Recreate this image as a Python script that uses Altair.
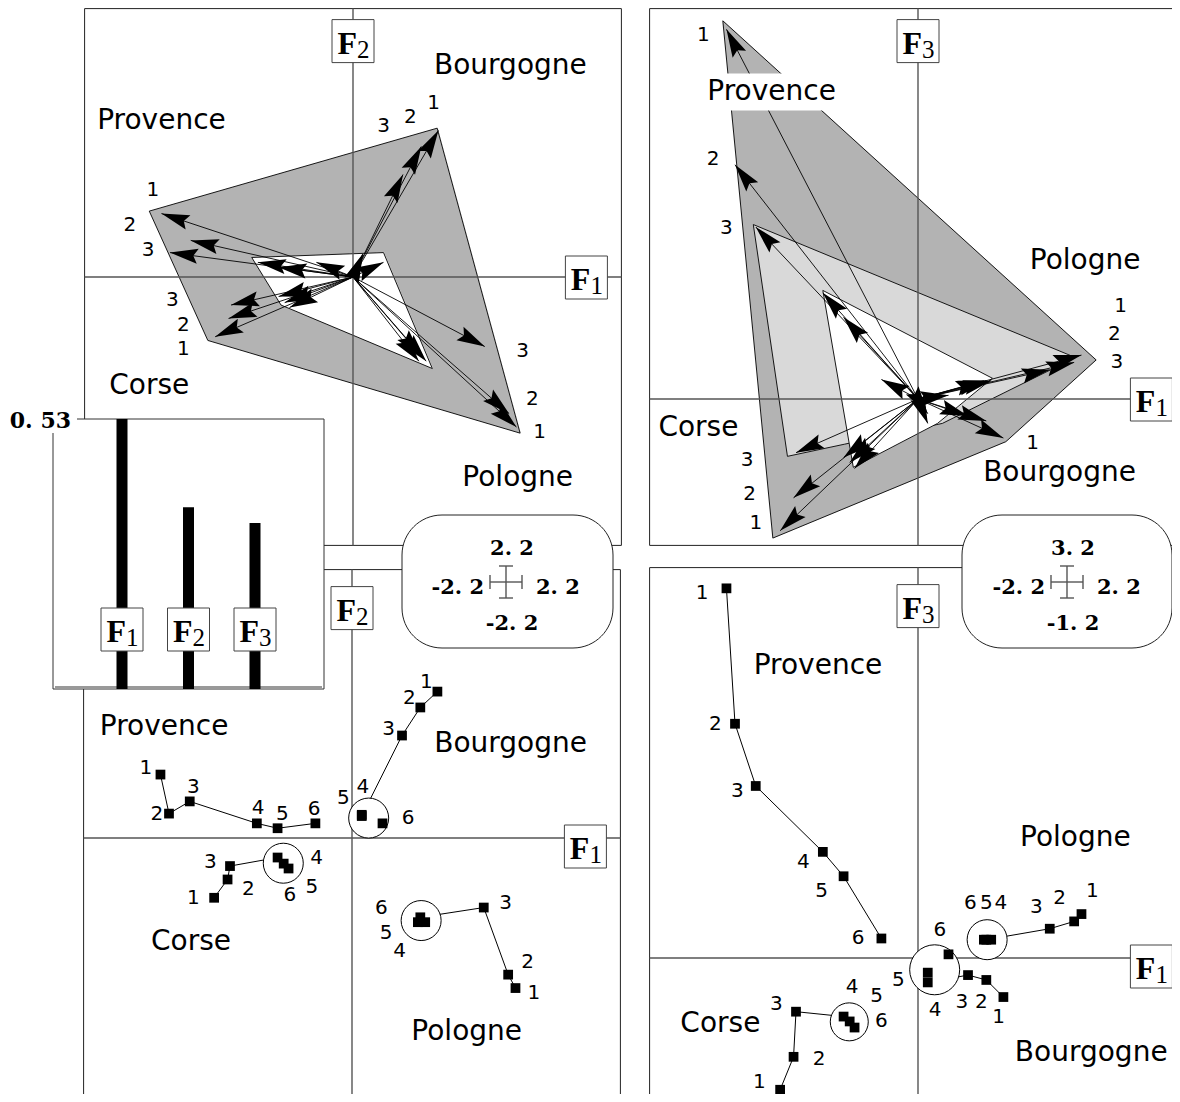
import math
import altair as alt
import pandas as pd

# ---------------- values ----------------
REGIONS = ["Provence", "Corse", "Bourgogne", "Pologne"]
TIMES = [1, 2, 3, 4, 5, 6]

PROVENCE_F1 = [-1.57, -1.50, -1.33, -0.78, -0.61, -0.30]
PROVENCE_F2 = [0.52, 0.20, 0.30, 0.12, 0.08, 0.12]
PROVENCE_F3 = [3.03, 1.92, 1.41, 0.87, 0.67, 0.16]
CORSE_F1 = [-1.13, -1.02, -1.00, -0.61, -0.56, -0.52]
CORSE_F2 = [-0.49, -0.34, -0.23, -0.16, -0.21, -0.25]
CORSE_F3 = [-1.08, -0.81, -0.44, -0.48, -0.52, -0.57]
BOURGOGNE_F1 = [0.70, 0.56, 0.41, 0.08, 0.08, 0.25]
BOURGOGNE_F2 = [1.20, 1.07, 0.84, 0.18, 0.19, 0.12]
BOURGOGNE_F3 = [-0.32, -0.18, -0.14, -0.20, -0.12, 0.03]
POLOGNE_F1 = [1.34, 1.28, 1.08, 0.56, 0.60, 0.54]
POLOGNE_F2 = [-1.23, -1.12, -0.57, -0.65, -0.69, -0.69]
POLOGNE_F3 = [0.36, 0.30, 0.24, 0.15, 0.15, 0.15]

EIGEN_LABELS = ["1", "2", "3"]
EIGEN_VALUES = [0.53, 0.357, 0.326]

F1_RANGE = [-2.2, 2.2]
F2_RANGE = [-2.2, 2.2]
F3_RANGE = [-1.2, 3.2]

# hull polygons of the arrow plots (factor units)
TL_DARK_X = [-1.67, 0.69, 1.37, -1.19]
TL_DARK_Y = [0.54, 1.22, -1.28, -0.52]
TL_WHITE_X = [-0.83, 0.25, 0.65, -0.59]
TL_WHITE_Y = [0.16, 0.20, -0.75, -0.23]
TR_DARK_X = [-1.60, 1.46, 0.72, -1.19]
TR_DARK_Y = [3.10, 0.32, -0.35, -1.14]
TR_LIGHT_X = [-1.35, 1.29, 0.20, -0.60, -1.07]
TR_LIGHT_Y = [1.43, 0.34, -0.20, -0.37, -0.47]
TR_WHITE_X = [-0.78, 0.61, 0.16, -0.53]
TR_WHITE_Y = [0.89, 0.17, -0.20, -0.56]

# time labels (factor units)
TL_LAB_TXT = ["1", "2", "3", "3", "2", "1", "3", "2", "1", "3", "2", "1"]
TL_LAB_X = [-1.64, -1.83, -1.68, -1.48, -1.39, -1.39, 0.25, 0.47, 0.66, 1.39, 1.47, 1.53]
TL_LAB_Y = [0.71, 0.43, 0.22, -0.19, -0.39, -0.59, 1.24, 1.31, 1.43, -0.61, -1.00, -1.27]
TR_LAB_TXT = ["1", "2", "3", "3", "2", "1", "1", "2", "3", "1"]
TR_LAB_X = [-1.76, -1.68, -1.57, -1.40, -1.38, -1.33, 1.66, 1.61, 1.63, 0.94]
TR_LAB_Y = [2.98, 1.97, 1.40, -0.50, -0.78, -1.02, 0.76, 0.53, 0.30, -0.36]
BL_LAB_X = [-1.69, -1.60, -1.30, -0.77, -0.57, -0.31,
            -1.30, -0.85, -1.16, -0.29, -0.33, -0.51,
            0.61, 0.47, 0.30, 0.09, -0.07, 0.46,
            1.49, 1.44, 1.26, 0.39, 0.28, 0.24]
BL_LAB_Y = [0.57, 0.20, 0.42, 0.25, 0.20, 0.24,
            -0.49, -0.42, -0.20, -0.16, -0.40, -0.47,
            1.28, 1.15, 0.89, 0.42, 0.33, 0.16,
            -1.27, -1.02, -0.53, -0.93, -0.78, -0.57]
BR_LAB_X = [-1.77, -1.66, -1.48, -0.94, -0.79, -0.49,
            -1.30, -0.81, -1.16, -0.54, -0.34, -0.30,
            0.66, 0.52, 0.36, 0.14, -0.16, 0.18,
            1.43, 1.16, 0.97, 0.68, 0.56, 0.43]
BR_LAB_Y = [2.99, 1.92, 1.37, 0.79, 0.55, 0.16,
            -1.02, -0.83, -0.38, -0.24, -0.31, -0.52,
            -0.48, -0.36, -0.36, -0.43, -0.18, 0.23,
            0.55, 0.49, 0.42, 0.45, 0.45, 0.45]

# region names (order of REGIONS)
TL_REG_X = [-1.57, -1.67, 1.29, 1.35]
TL_REG_Y = [1.28, -0.89, 1.73, -1.65]
TR_REG_X = [-1.20, -1.80, 1.16, 1.37]
TR_REG_Y = [2.52, -0.24, -0.61, 1.13]
BL_REG_X = [-1.54, -1.32, 1.30, 0.94]
BL_REG_Y = [0.91, -0.85, 0.77, -1.59]
BR_REG_X = [-0.82, -1.62, 1.42, 1.29]
BR_REG_Y = [2.39, -0.54, -0.78, 0.98]

CIRCLE_REGIONS = ["Corse", "Bourgogne", "Pologne"]
BL_CIRCLE_R = [20, 20, 20]
BR_CIRCLE_R = [19, 25, 20]

# ---------------- layout (pixels) ----------------
W, H = 1164, 1086
XS = alt.Scale(domain=[8, 8 + W], nice=False, zero=False)
YS = alt.Scale(domain=[8, 8 + H], nice=False, zero=False, reverse=True)
K = 122
PANELS = {
    "TL": dict(ox=353, oy=277, yf=1, top=True),
    "TR": dict(ox=918, oy=399, yf=2, top=True),
    "BL": dict(ox=352, oy=838, yf=1, top=False),
    "BR": dict(ox=918, oy=958, yf=2, top=False),
}
COORDS = {
    "Provence": (PROVENCE_F1, PROVENCE_F2, PROVENCE_F3),
    "Corse": (CORSE_F1, CORSE_F2, CORSE_F3),
    "Bourgogne": (BOURGOGNE_F1, BOURGOGNE_F2, BOURGOGNE_F3),
    "Pologne": (POLOGNE_F1, POLOGNE_F2, POLOGNE_F3),
}
INSET = dict(x0=53, x1=324, y0=419, y1=689, first=122, step=66.5, barw=11, boxcy=629)
SCALE_BOXES = [
    dict(cx=506, cy=582, x0=402, x1=613, y0=515, y1=648, yr=F2_RANGE),
    dict(cx=1067, cy=582, x0=962, x1=1172, y0=515, y1=648, yr=F3_RANGE),
]
DARK, LIGHT = "#b3b3b3", "#d9d9d9"
SANS = "DejaVu Sans"
SERIF = "Liberation Serif"
NUMF = "DejaVu Serif"


def px(panel, fx, fy):
    p = PANELS[panel]
    return p["ox"] + K * fx, p["oy"] - K * fy


def X(f="x"):
    return alt.X(f + ":Q", scale=XS, axis=None)


def Y(f="y"):
    return alt.Y(f + ":Q", scale=YS, axis=None)


def fmt(v):
    return f"{v:.1f}".replace(".", ". ")


def fmt2(v):
    return f"{v:.2f}".replace(".", ". ")


def rect_layer(rows, **mark):
    return alt.Chart(pd.DataFrame(rows)).mark_rect(**mark).encode(
        x=X(), x2="x2:Q", y=Y(), y2="y2:Q")


def rule_layer(rows, **mark):
    return alt.Chart(pd.DataFrame(rows)).mark_rule(**mark).encode(
        x=X(), x2="x2:Q", y=Y(), y2="y2:Q")


def text_layer(rows, **mark):
    return alt.Chart(pd.DataFrame(rows)).mark_text(**mark).encode(
        x=X(), y=Y(), text="t:N")


layers = []

# ---- panel frames and axes ----
frames, axes, fbox, ftxt, fsub = [], [], [], [], []
for name, p in PANELS.items():
    yr = F2_RANGE if p["yf"] == 1 else F3_RANGE
    x0 = p["ox"] + K * F1_RANGE[0]
    x1 = p["ox"] + K * F1_RANGE[1]
    y0 = p["oy"] - K * yr[1]
    y1 = p["oy"] - K * yr[0]
    frames.append(dict(x=x0, x2=x1, y=y0, y2=y1))
    axes.append(dict(x=x0, x2=x1, y=p["oy"], y2=p["oy"]))
    axes.append(dict(x=p["ox"], x2=p["ox"], y=y0, y2=y1))
    c1 = (x1 - 35, p["oy"] + (0 if p["top"] else 8), "1")
    c2 = (p["ox"], y0 + (32 if p["top"] else 38), str(p["yf"] + 1))
    for cx, cy, s in (c1, c2):
        fbox.append(dict(x=cx - 21, x2=cx + 21, y=cy - 21, y2=cy + 22))
        ftxt.append(dict(x=cx + 4, y=cy + 13, t="F"))
        fsub.append(dict(x=cx + 4, y=cy + 17, t=s))

layers.append(rect_layer(frames, fill="transparent", stroke="#222", strokeWidth=1, clip=True))


# ---- hull polygons, filled column by column ----
def scan_rows(verts):
    n = len(verts)
    xs = [v[0] for v in verts]
    rows = []
    for xi in range(int(math.floor(min(xs))), int(math.ceil(max(xs)))):
        c = xi + 0.5
        ys = []
        for i in range(n):
            (xa, ya), (xb, yb) = verts[i], verts[(i + 1) % n]
            if xa == xb:
                continue
            if min(xa, xb) <= c <= max(xa, xb):
                ys.append(ya + (c - xa) / (xb - xa) * (yb - ya))
        if len(ys) >= 2:
            rows.append(dict(x=xi, x2=xi + 1.25, y=min(ys), y2=max(ys)))
    return rows


POLYS = [
    ("TL", TL_DARK_X, TL_DARK_Y, DARK),
    ("TR", TR_DARK_X, TR_DARK_Y, DARK),
    ("TR", TR_LIGHT_X, TR_LIGHT_Y, LIGHT),
    ("TL", TL_WHITE_X, TL_WHITE_Y, "white"),
    ("TR", TR_WHITE_X, TR_WHITE_Y, "white"),
]
for k, (panel, xs, ys, col) in enumerate(POLYS):
    verts = [px(panel, a, b) for a, b in zip(xs, ys)]
    layers.append(rect_layer(scan_rows(verts), color=col, opacity=1, strokeWidth=0))
    outline = [dict(i=i, x=v[0], y=v[1]) for i, v in enumerate(verts + [verts[0]])]
    layers.append(alt.Chart(pd.DataFrame(outline)).mark_line(color="black", strokeWidth=0.9).encode(
        x=X(), y=Y(), order="i:Q"))

layers.append(rule_layer(axes, color="#555", strokeWidth=1.4, clip=True))

# ---- arrows (top panels) ----
arrows = []
for panel in ("TL", "TR"):
    p = PANELS[panel]
    for r in REGIONS:
        c = COORDS[r]
        for i, t in enumerate(TIMES):
            x, y = px(panel, c[0][i], c[p["yf"]][i])
            dx, dy = x - p["ox"], y - p["oy"]
            ang = (math.degrees(math.atan2(dx, -dy)) + 360) % 360
            arrows.append(dict(ox=p["ox"], oy=p["oy"], x=x, y=y, ang=ang))
arr_df = pd.DataFrame(arrows)
layers.append(alt.Chart(arr_df).mark_rule(color="black", strokeWidth=0.9).encode(
    x=X("ox"), x2="x:Q", y=Y("oy"), y2="y:Q"))
layers.append(alt.Chart(arr_df).mark_point(
    shape="M0,0L-0.27,1L0,0.84L0.27,1Z", size=3136, filled=True, color="black", opacity=1).encode(
    x=X(), y=Y(), angle=alt.Angle("ang:Q", scale=None)))

# ---- trajectories (bottom panels) ----
traj, circ = [], []
for panel, radii in (("BL", BL_CIRCLE_R), ("BR", BR_CIRCLE_R)):
    p = PANELS[panel]
    for r in REGIONS:
        c = COORDS[r]
        for i, t in enumerate(TIMES):
            x, y = px(panel, c[0][i], c[p["yf"]][i])
            traj.append(dict(key=panel + r, t=t, x=x, y=y))
    for r, rad in zip(CIRCLE_REGIONS, radii):
        c = COORDS[r]
        mx = sum(c[0][3:6]) / 3
        my = sum(c[p["yf"]][3:6]) / 3
        x, y = px(panel, mx, my)
        circ.append(dict(x=x, y=y, s=(2 * rad) ** 2))
traj_df = pd.DataFrame(traj)
layers.append(alt.Chart(traj_df).mark_line(color="black", strokeWidth=1).encode(
    x=X(), y=Y(), detail="key:N", order="t:Q"))
layers.append(alt.Chart(pd.DataFrame(circ)).mark_point(
    shape="circle", filled=True, fill="white", stroke="black", strokeWidth=1, opacity=1).encode(
    x=X(), y=Y(), size=alt.Size("s:Q", scale=None)))
layers.append(alt.Chart(traj_df).mark_square(size=95, color="black", opacity=1).encode(x=X(), y=Y()))

# ---- time labels ----
labs = []
for panel, txt, lx, ly in (("TL", TL_LAB_TXT, TL_LAB_X, TL_LAB_Y),
                           ("TR", TR_LAB_TXT, TR_LAB_X, TR_LAB_Y),
                           ("BL", [str(t) for _ in REGIONS for t in TIMES], BL_LAB_X, BL_LAB_Y),
                           ("BR", [str(t) for _ in REGIONS for t in TIMES], BR_LAB_X, BR_LAB_Y)):
    for s, a, b in zip(txt, lx, ly):
        x, y = px(panel, a, b)
        labs.append(dict(x=x, y=y, t=s))
layers.append(text_layer(labs, font=SANS, fontSize=20, color="black", align="center", baseline="middle"))

# ---- region names ----
regs, regbg = [], []
for panel, rx, ry in (("TL", TL_REG_X, TL_REG_Y), ("TR", TR_REG_X, TR_REG_Y),
                      ("BL", BL_REG_X, BL_REG_Y), ("BR", BR_REG_X, BR_REG_Y)):
    for r, a, b in zip(REGIONS, rx, ry):
        x, y = px(panel, a, b)
        regs.append(dict(x=x, y=y, t=r))
        if panel == "TR" and r == "Provence":
            regbg.append(dict(x=x - 70, x2=x + 70, y=y - 18, y2=y + 19))
layers.append(rect_layer(regbg, color="white", opacity=1))
layers.append(text_layer(regs, font=SANS, fontSize=28, color="black", align="center", baseline="middle"))

# ---- inset of eigenvalues ----
ins = INSET
bars = []
vmax = EIGEN_VALUES[0]
for i, (lab, v) in enumerate(zip(EIGEN_LABELS, EIGEN_VALUES)):
    xc = ins["first"] + i * ins["step"]
    top = ins["y1"] - v / vmax * (ins["y1"] - ins["y0"])
    bars.append(dict(x=xc - ins["barw"] / 2, x2=xc + ins["barw"] / 2, y=top, y2=ins["y1"]))
    cy = ins["boxcy"]
    fbox.append(dict(x=xc - 21, x2=xc + 21, y=cy - 21, y2=cy + 22))
    ftxt.append(dict(x=xc + 4, y=cy + 13, t="F"))
    fsub.append(dict(x=xc + 4, y=cy + 17, t=lab))

layers.append(rect_layer([dict(x=ins["x0"], x2=ins["x1"], y=ins["y0"], y2=ins["y1"])],
                         fill="white", stroke="#333", strokeWidth=1))
layers.append(rule_layer([dict(x=ins["x0"] + 2, x2=ins["x1"] - 2, y=ins["y1"] - 1.5, y2=ins["y1"] - 1.5)],
                         color="#999", strokeWidth=3))
layers.append(rect_layer(bars, color="black", opacity=1))
layers.append(rect_layer([dict(x=ins["x0"] - 48, x2=ins["x0"] + 24, y=ins["y0"] - 14, y2=ins["y0"] + 14)],
                         color="white", opacity=1))
layers.append(text_layer([dict(x=ins["x0"] + 18, y=ins["y0"] + 9, t=fmt2(vmax))],
                         font=NUMF, fontSize=22, fontWeight="bold", align="right",
                         baseline="alphabetic", color="black"))

# ---- factor label boxes ----
layers.append(rect_layer(fbox, fill="white", stroke="#444", strokeWidth=1))
layers.append(text_layer(ftxt, font=SERIF, fontSize=32, fontWeight="bold", align="right",
                         baseline="alphabetic", color="black"))
layers.append(text_layer(fsub, font=SERIF, fontSize=25, align="left", baseline="alphabetic", color="black"))

# ---- scale boxes ----
sbox, cross, tc, tl, tr = [], [], [], [], []
for b in SCALE_BOXES:
    cx, cy = b["cx"], b["cy"]
    sbox.append(dict(x=b["x0"], x2=b["x1"], y=b["y0"], y2=b["y1"]))
    cross += [dict(x=cx - 16, x2=cx + 16, y=cy, y2=cy), dict(x=cx, x2=cx, y=cy - 16, y2=cy + 16),
              dict(x=cx - 16, x2=cx - 16, y=cy - 7, y2=cy + 7), dict(x=cx + 16, x2=cx + 16, y=cy - 7, y2=cy + 7),
              dict(x=cx - 7, x2=cx + 7, y=cy - 16, y2=cy - 16), dict(x=cx - 7, x2=cx + 7, y=cy + 16, y2=cy + 16)]
    tc += [dict(x=cx + 6, y=cy - 27, t=fmt(b["yr"][1])), dict(x=cx + 6, y=cy + 48, t=fmt(b["yr"][0]))]
    tl.append(dict(x=cx + 30, y=cy + 12, t=fmt(F1_RANGE[1])))
    tr.append(dict(x=cx - 22, y=cy + 12, t=fmt(F1_RANGE[0])))
layers.append(rect_layer(sbox, fill="white", stroke="#222", strokeWidth=1, cornerRadius=40))
layers.append(rule_layer(cross, color="#555", strokeWidth=1.4))
for rows, al in ((tc, "center"), (tl, "left"), (tr, "right")):
    layers.append(text_layer(rows, font=NUMF, fontSize=21, fontWeight="bold", align=al,
                             baseline="alphabetic", color="black"))

chart = alt.layer(*layers).properties(
    width=W, height=H, padding=0, autosize=alt.AutoSizeParams(type="none"), background="white"
).configure_view(strokeWidth=0)

chart.save("out.html", embed_options={"renderer": "svg", "actions": False})
